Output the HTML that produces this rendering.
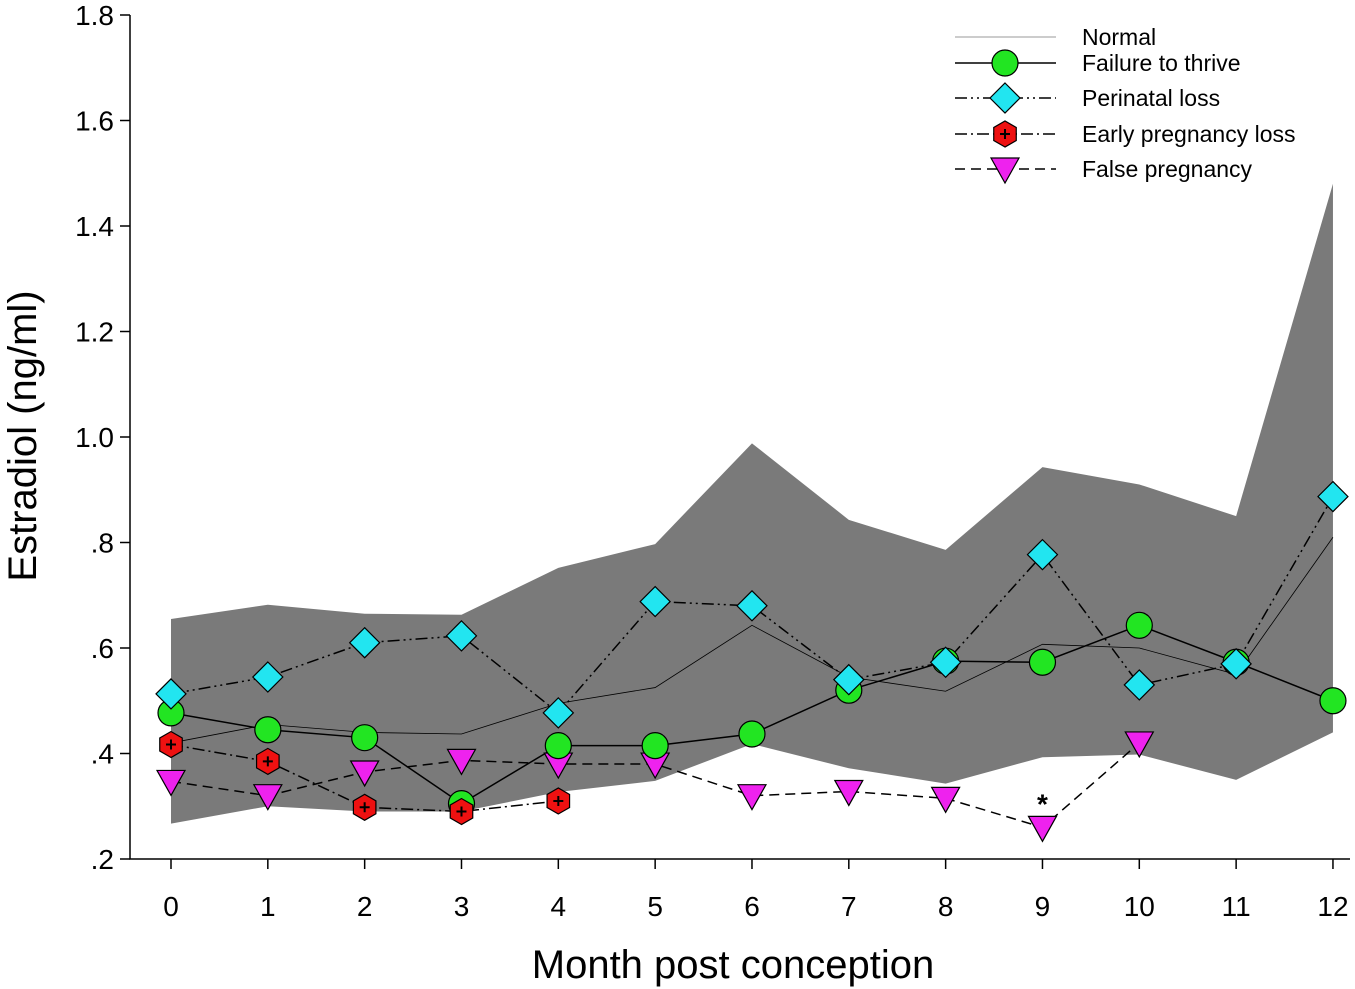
<!DOCTYPE html>
<html><head><meta charset="utf-8"><style>
body{margin:0;background:#fff}
svg{display:block;font-family:"Liberation Sans",Arial,sans-serif}
</style></head><body>
<svg id="chart" width="1355" height="989" viewBox="0 0 1355 989"></svg>
<script>
const months=[0,1,2,3,4,5,6,7,8,9,10,11,12];
const normUpper=[.655,.682,.665,.663,.752,.797,.988,.843,.786,.943,.910,.850,1.48];
const normLower=[.267,.30,.29,.29,.327,.348,.418,.372,.343,.393,.398,.35,.44];
const normMean=[.42,.455,.44,.437,.495,.525,.643,.545,.518,.607,.60,.55,.81];
const ftt=[.477,.445,.43,.305,.415,.415,.437,.52,.575,.573,.643,.573,.50];
const perinatal=[.513,.545,.61,.623,.477,.688,.68,.54,.573,.777,.53,.57,.887];
const earlyLoss=[.417,.385,.298,.29,.31];
const falsePreg=[.347,.32,.365,.387,.38,.38,.32,.328,.315,.26,.42];
const yTicks=[.2,.4,.6,.8,1.0,1.2,1.4,1.6,1.8];
const yTickLabels=[".2",".4",".6",".8","1.0","1.2","1.4","1.6","1.8"];

const NS="http://www.w3.org/2000/svg";
const svg=document.getElementById('chart');
const X=m=>171+m*96.83;
const Y=v=>859-(v-0.2)*527.5;
function mk(tag,attrs,parent){const e=document.createElementNS(NS,tag);for(const k in attrs)e.setAttribute(k,attrs[k]);(parent||svg).appendChild(e);return e;}

let pts=months.map((m,i)=>X(m)+','+Y(normUpper[i])).concat(months.slice().reverse().map(m=>X(m)+','+Y(normLower[m])));
const band=mk('polygon',{points:pts.join(' '),fill:'#7a7a7a'});



function line(arr,dash,w,name){
  const p=arr.map((v,i)=>X(i)+','+Y(v)).join(' ');
  const l=mk('polyline',{points:p,fill:'none',stroke:'#000','stroke-width':w,'stroke-dasharray':dash});
  
  
}
line(normMean,'',0.8,'normal-line');
line(ftt,'',1.5,'failure-to-thrive-line');
line(perinatal,'12,4,2,4,2,4',1.5,'perinatal-loss-line');
line(earlyLoss,'12,4,2,4',1.5,'early-pregnancy-loss-line');
line(falsePreg,'10,6',1.5,'false-pregnancy-line');

function circle(x,y){return mk('circle',{cx:x,cy:y,r:13,fill:'#22e522',stroke:'#000','stroke-width':1.2});}
function diamond(x,y){return mk('polygon',{points:`${x},${y-15} ${x+15},${y} ${x},${y+15} ${x-15},${y}`,fill:'#22e5f0',stroke:'#000','stroke-width':1.2});}
function hexa(x,y){const g=mk('g',{});let p=[];for(let k=0;k<6;k++){const a=Math.PI/3*k+Math.PI/2;p.push((x+13*Math.cos(a))+','+(y+13*Math.sin(a)));}
  mk('polygon',{points:p.join(' '),fill:'#ee1111',stroke:'#000','stroke-width':1.2},g);
  mk('path',{d:`M${x-5},${y}H${x+5}M${x},${y-5}V${y+5}`,stroke:'#000','stroke-width':2},g);return g;}
function tri(x,y){return mk('polygon',{points:`${x-14},${y-11} ${x+14},${y-11} ${x},${y+14}`,fill:'#ee22ee',stroke:'#000','stroke-width':1.2});}

[[falsePreg,tri,'false-pregnancy-point'],[ftt,circle,'failure-to-thrive-point'],[earlyLoss,hexa,'early-loss-point'],[perinatal,diamond,'perinatal-loss-point']].forEach(([arr,f,n])=>{
  arr.forEach((v,i)=>{const e=f(X(i),Y(v));});
});

const ast=mk('text',{x:X(9),y:Y(falsePreg[9])-14,'text-anchor':'middle','font-size':28,'font-weight':'bold'});ast.textContent='*';


const ax=mk('path',{d:'M130,15V859H1350',stroke:'#000','stroke-width':1.5,fill:'none'});

yTicks.forEach((v,i)=>{mk('line',{x1:120,x2:130,y1:Y(v),y2:Y(v),stroke:'#000','stroke-width':1.5});
  const t=mk('text',{x:114,y:Y(v)+10,'text-anchor':'end','font-size':28});t.textContent=yTickLabels[i];
  });
months.forEach(m=>{mk('line',{x1:X(m),x2:X(m),y1:859,y2:869,stroke:'#000','stroke-width':1.5});
  const t=mk('text',{x:X(m),y:916,'text-anchor':'middle','font-size':28});t.textContent=m;
  });
const xt=mk('text',{x:733,y:978,'text-anchor':'middle','font-size':40});xt.textContent='Month post conception';

const yt=mk('text',{x:0,y:0,'text-anchor':'middle','font-size':40,transform:'translate(36,436) rotate(-90)'});yt.textContent='Estradiol (ng/ml)';


const leg=[['Normal',37,'',0.8,null,'#777'],['Failure to thrive',63,'',1.5,circle,'#000'],['Perinatal loss',98,'12,4,2,4,2,4',1.5,diamond,'#000'],['Early pregnancy loss',134,'12,4,2,4',1.5,hexa,'#000'],['False pregnancy',169,'10,6',1.5,tri,'#000']];
leg.forEach(([lab,y,d,w,f,c])=>{
  const g=mk('g',{});
  mk('line',{x1:955,x2:1056,y1:y,y2:y,stroke:c,'stroke-width':w,'stroke-dasharray':d},g);
  if(f){const e=f(1005,y);g.appendChild(e);}
  const t=mk('text',{x:1082,y:y+8,'font-size':23},g);t.textContent=lab;
});
</script>
</body></html>
